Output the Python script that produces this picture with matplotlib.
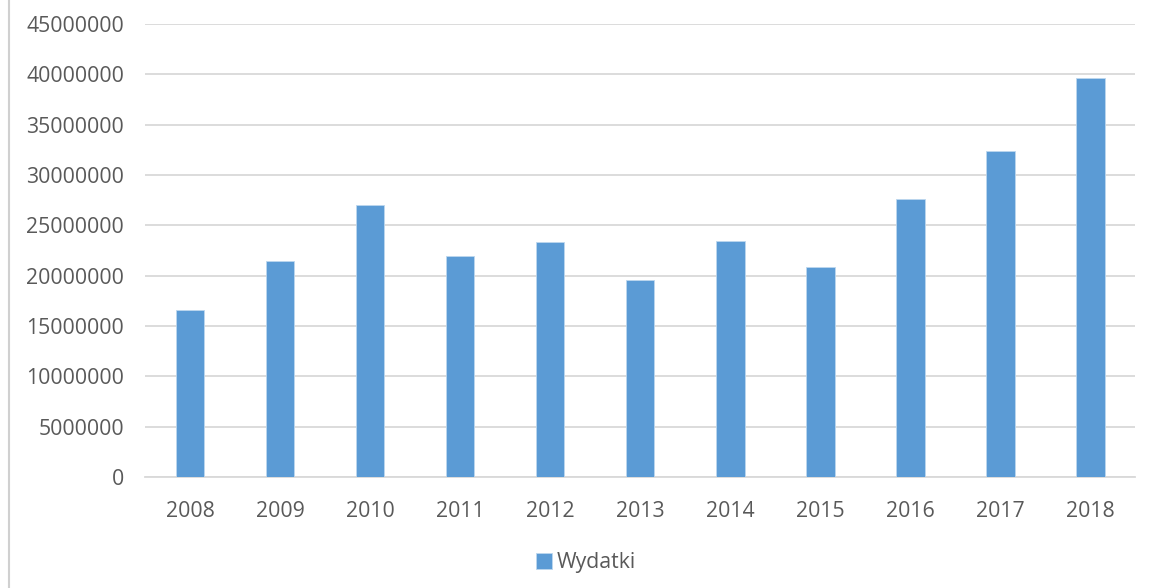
"""Wydatki 2008-2018 bar chart"""

import matplotlib
matplotlib.use("Agg")
import matplotlib.pyplot as plt
from matplotlib.lines import Line2D

years = ["2008", "2009", "2010", "2011", "2012", "2013",
         "2014", "2015", "2016", "2017", "2018"]
wydatki = [16600000, 21500000, 27000000, 22000000, 23300000, 19600000,
           23400000, 20900000, 27600000, 32400000, 39650000]
y_ticks = [0, 5000000, 10000000, 15000000, 20000000, 25000000,
           30000000, 35000000, 40000000, 45000000]

BAR = "#5B9BD5"
GRID = "#D9D9D9"
TEXT = "#595959"

plt.rcParams["font.family"] = ["Open Sans", "DejaVu Sans"]

fig = plt.figure(figsize=(11.56, 5.88), dpi=100)
ax = fig.add_axes([0.1254, 0.1888, 0.8566, 0.7702])

x = range(len(years))
ax.bar(x, wydatki, width=0.32, color=BAR, edgecolor="#BDD7EE",
       linewidth=0.6, zorder=3, label="Wydatki")

ax.set_xlim(-0.5, len(years) - 0.5)
ax.set_ylim(0, 45000000)
ax.set_yticks(y_ticks)
ax.set_yticklabels([str(v) for v in y_ticks])
ax.set_xticks(list(x))
ax.set_xticklabels(years)

ax.grid(axis="y", color=GRID, linewidth=1.3, zorder=0)
for side in ["top", "right", "left"]:
    ax.spines[side].set_visible(False)
ax.spines["bottom"].set_color(GRID)
ax.spines["bottom"].set_linewidth(1.3)
ax.tick_params(axis="both", length=0, labelsize=15.3, colors=TEXT)
ax.tick_params(axis="y", pad=15)
ax.tick_params(axis="x", pad=17)

# chart frame on the left edge
fig.add_artist(Line2D([0.0075, 0.0075], [0, 1], color="#D0D0D0",
                      linewidth=1.5, transform=fig.transFigure))

handles, labels = ax.get_legend_handles_labels()
fig.legend(handles, labels, loc="center", bbox_to_anchor=(0.507, 0.043),
           frameon=False, fontsize=15.3, labelcolor=TEXT,
           handlelength=0.75, handleheight=0.75, handletextpad=0.25)

fig.savefig("out.png", dpi=100)
